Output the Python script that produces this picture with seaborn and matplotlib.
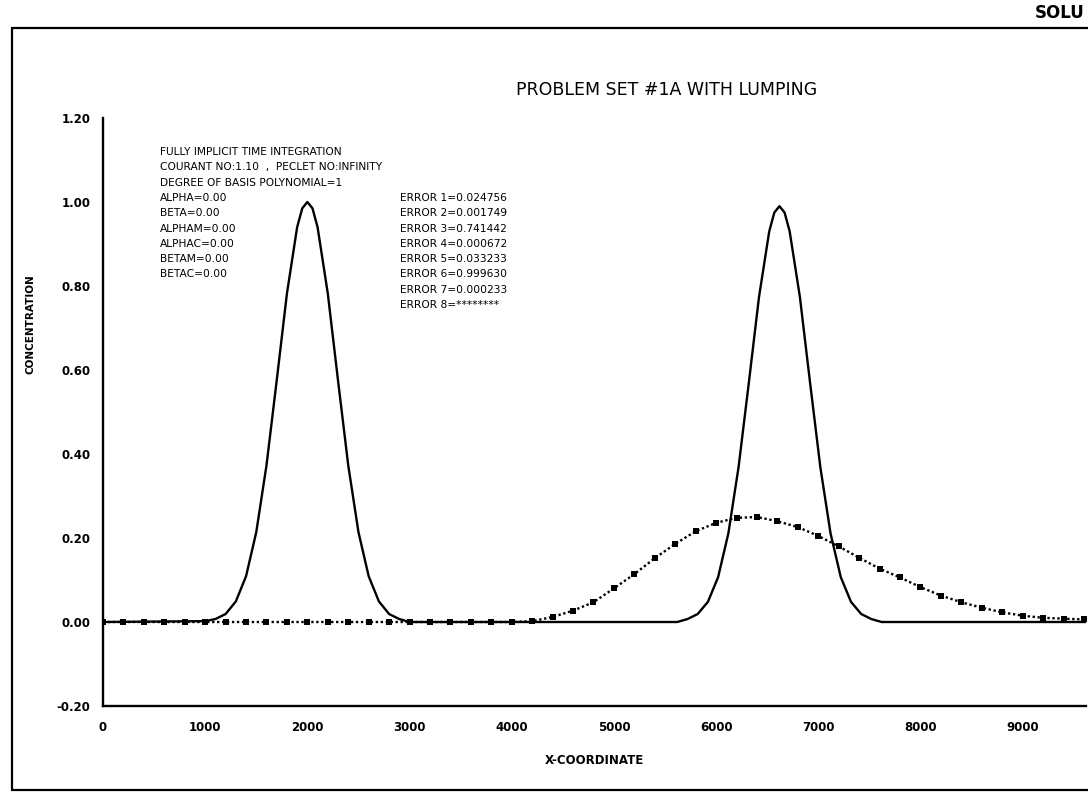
import matplotlib
matplotlib.use("Agg")
import matplotlib.pyplot as plt
from matplotlib.lines import Line2D
import seaborn as sns
import pandas as pd

# ---- data ----
x_exact = [0, 1000, 1100, 1200, 1300, 1400, 1500, 1600, 1700, 1800, 1900, 1950, 2000,
           2050, 2100, 2200, 2300, 2400, 2500, 2600, 2700, 2800, 2900, 3000,
           5620, 5720, 5820, 5920, 6020, 6120, 6220, 6320, 6420, 6520, 6570, 6620,
           6670, 6720, 6820, 6920, 7020, 7120, 7220, 7320, 7420, 7520, 7620, 9620]
c_exact = [0.0, 0.002, 0.007, 0.019, 0.049, 0.109, 0.214, 0.373, 0.575, 0.782, 0.940, 0.985, 1.00,
           0.985, 0.940, 0.782, 0.575, 0.373, 0.214, 0.109, 0.049, 0.019, 0.007, 0.0,
           0.0, 0.007, 0.019, 0.048, 0.107, 0.211, 0.369, 0.569, 0.774, 0.930, 0.975, 0.99,
           0.975, 0.930, 0.774, 0.569, 0.369, 0.211, 0.107, 0.048, 0.019, 0.007, 0.0, 0.0]

x_numer = [0, 200, 400, 600, 800, 1000, 1200, 1400, 1600, 1800, 2000, 2200, 2400, 2600,
           2800, 3000, 3200, 3400, 3600, 3800, 4000, 4200, 4400, 4600, 4800, 5000, 5200,
           5400, 5600, 5800, 6000, 6200, 6400, 6600, 6800, 7000, 7200, 7400, 7600, 7800,
           8000, 8200, 8400, 8600, 8800, 9000, 9200, 9400, 9600]
c_numer = [0.0, 0.0, 0.0, 0.0, 0.0, 0.0, 0.0, 0.0, 0.0, 0.0, 0.0, 0.0, 0.0, 0.0,
           0.0, 0.0, 0.0, 0.0, 0.0, 0.0, 0.0, 0.002, 0.012, 0.027, 0.047, 0.080, 0.114,
           0.152, 0.186, 0.216, 0.236, 0.248, 0.250, 0.240, 0.226, 0.205, 0.180, 0.153, 0.127, 0.106,
           0.083, 0.063, 0.047, 0.034, 0.023, 0.015, 0.010, 0.008, 0.006]

x_ticks = [0, 1000, 2000, 3000, 4000, 5000, 6000, 7000, 8000, 9000]
y_ticks = [-0.20, 0.00, 0.20, 0.40, 0.60, 0.80, 1.00, 1.20]

title = "PROBLEM SET #1A WITH LUMPING"
info_lines = ["FULLY IMPLICIT TIME INTEGRATION",
              "COURANT NO:1.10  ,  PECLET NO:INFINITY",
              "DEGREE OF BASIS POLYNOMIAL=1",
              "ALPHA=0.00", "BETA=0.00", "ALPHAM=0.00", "ALPHAC=0.00",
              "BETAM=0.00", "BETAC=0.00"]
error_lines = ["ERROR 1=0.024756", "ERROR 2=0.001749", "ERROR 3=0.741442",
               "ERROR 4=0.000672", "ERROR 5=0.033233", "ERROR 6=0.999630",
               "ERROR 7=0.000233", "ERROR 8=********"]

# ---- figure ----
sns.set_theme(style="white")
plt.rcParams["font.family"] = ["DejaVu Sans"]
plt.rcParams["text.color"] = "black"
plt.rcParams["axes.labelcolor"] = "black"

W, H = 1088, 796
fig = plt.figure(figsize=(W / 100, H / 100), dpi=100)
fig.patch.set_facecolor("white")

left_px, right_px, top_px, bot_px = 103, 1086, 118, 706
ax = fig.add_axes([left_px / W, 1 - bot_px / H, (right_px - left_px) / W, (bot_px - top_px) / H])
ax.set_facecolor("white")

df_exact = pd.DataFrame({"x": x_exact, "c": c_exact})
df_numer = pd.DataFrame({"x": x_numer, "c": c_numer})

sns.lineplot(data=df_exact, x="x", y="c", ax=ax, color="black", linewidth=1.7,
             estimator=None, sort=False)
sns.lineplot(data=df_numer, x="x", y="c", ax=ax, color="black", linewidth=1.7,
             linestyle=(0, (1.0, 1.1)), marker="s", markersize=3.8, markeredgewidth=0,
             estimator=None, sort=False)

ax.set_xlim(0, 9620)
ax.set_ylim(-0.2, 1.2)
ax.set_xticks(x_ticks)
ax.set_yticks(y_ticks)
ax.set_xticklabels([str(t) for t in x_ticks])
ax.set_yticklabels([f"{t:.2f}" for t in y_ticks])
for s in ["top", "right"]:
    ax.spines[s].set_visible(False)
for s in ["left", "bottom"]:
    ax.spines[s].set_color("black")
    ax.spines[s].set_linewidth(1.7)
ax.tick_params(axis="y", direction="out", length=8, width=1.4, pad=1,
               labelsize=8.5, colors="black")
ax.tick_params(axis="x", direction="out", length=6, width=1.2, pad=5,
               labelsize=8.5, colors="black")
for lab in ax.get_xticklabels() + ax.get_yticklabels():
    lab.set_fontweight("bold")

ax.set_xlabel("X-COORDINATE", fontsize=8.5, fontweight="bold", labelpad=14)
ax.set_ylabel("CONCENTRATION", fontsize=7.5, fontweight="bold")
ax.yaxis.set_label_coords(-0.069, 0.65)

# title and annotation texts
fig.text(516 / W, 1 - 90 / H, title, fontsize=12.5, ha="left", va="center")
y0, dy = 152, 15.3
for i, line in enumerate(info_lines):
    fig.text(160 / W, 1 - (y0 + i * dy) / H, line, fontsize=7.7, ha="left", va="center")
for i, line in enumerate(error_lines):
    fig.text(400 / W, 1 - (y0 + (i + 3) * dy) / H, line, fontsize=7.7, ha="left", va="center")

# page border
fig.add_artist(Line2D([12 / W, 1.0], [1 - 28 / H, 1 - 28 / H], color="black", lw=1.6,
                      transform=fig.transFigure))
fig.add_artist(Line2D([12 / W, 12 / W], [1 - 28 / H, 1 - 790 / H], color="black", lw=1.6,
                      transform=fig.transFigure))
fig.add_artist(Line2D([12 / W, 1.0], [1 - 790 / H, 1 - 790 / H], color="black", lw=1.6,
                      transform=fig.transFigure))
fig.text(1084 / W, 1 - 13 / H, "SOLU", fontsize=12, fontweight="bold", ha="right",
         va="center")

fig.savefig("out.png", dpi=100, facecolor="white")
